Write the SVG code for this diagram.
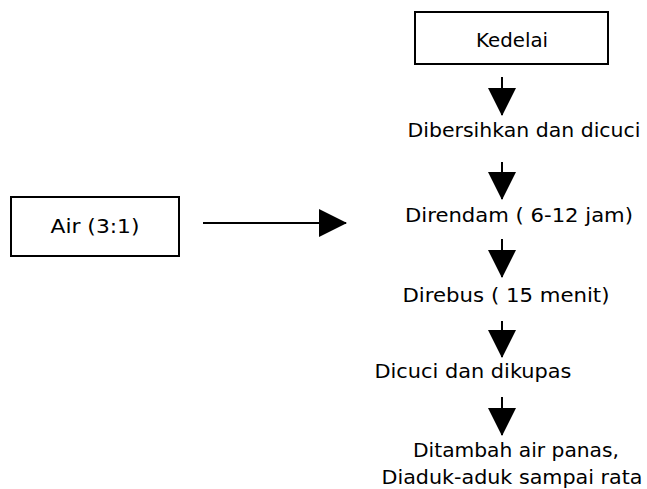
<svg xmlns="http://www.w3.org/2000/svg" width="647" height="489" viewBox="0 0 647 489">
<style>
  .box { fill: #fff; stroke: #000; stroke-width: 2; }
  .t { font-family: "DejaVu Sans", Verdana, sans-serif; font-size: 20px; fill: #000; text-anchor: middle; }
  .c { stroke: #000; stroke-width: 2; fill: none; }
</style>
<defs>
  <marker id="ah" markerUnits="userSpaceOnUse" markerWidth="28" markerHeight="28" viewBox="0 0 28 28" refX="27" refY="14" orient="auto">
    <path d="M0,0 L28,14 L0,28 Z" fill="#000"/>
  </marker>
</defs>
<rect width="647" height="489" fill="#fff"/>
<g id="connectors">
  <line class="c" x1="502" y1="77" x2="502" y2="115" marker-end="url(#ah)"/>
  <line class="c" x1="502" y1="162" x2="502" y2="199" marker-end="url(#ah)"/>
  <line class="c" x1="502" y1="239" x2="502" y2="277" marker-end="url(#ah)"/>
  <line class="c" x1="502" y1="321" x2="502" y2="357" marker-end="url(#ah)"/>
  <line class="c" x1="502" y1="397" x2="502" y2="435" marker-end="url(#ah)"/>
  <line class="c" x1="203" y1="223" x2="346" y2="223" marker-end="url(#ah)"/>
</g>
<g id="kedelai">
  <rect class="box" x="415" y="12" width="193" height="52"/>
  <text class="t" x="512" y="47" textLength="72" lengthAdjust="spacingAndGlyphs">Kedelai</text>
</g>
<g id="air">
  <rect class="box" x="11" y="197" width="168" height="59"/>
  <text class="t" x="95" y="233" textLength="89" lengthAdjust="spacingAndGlyphs">Air (3:1)</text>
</g>
<g id="dibersihkan">
  <text class="t" x="524" y="137" textLength="233" lengthAdjust="spacingAndGlyphs">Dibersihkan dan dicuci</text>
</g>
<g id="direndam">
  <text class="t" x="519" y="222" textLength="228" lengthAdjust="spacingAndGlyphs">Direndam ( 6-12 jam)</text>
</g>
<g id="direbus">
  <text class="t" x="506" y="302" textLength="207" lengthAdjust="spacingAndGlyphs">Direbus ( 15 menit)</text>
</g>
<g id="dicuci">
  <text class="t" x="473" y="378" textLength="197" lengthAdjust="spacingAndGlyphs">Dicuci dan dikupas</text>
</g>
<g id="ditambah">
  <text class="t" x="516" y="457" textLength="206" lengthAdjust="spacingAndGlyphs">Ditambah air panas,</text>
  <text class="t" x="512" y="484" textLength="261" lengthAdjust="spacingAndGlyphs">Diaduk-aduk sampai rata</text>
</g>
</svg>
